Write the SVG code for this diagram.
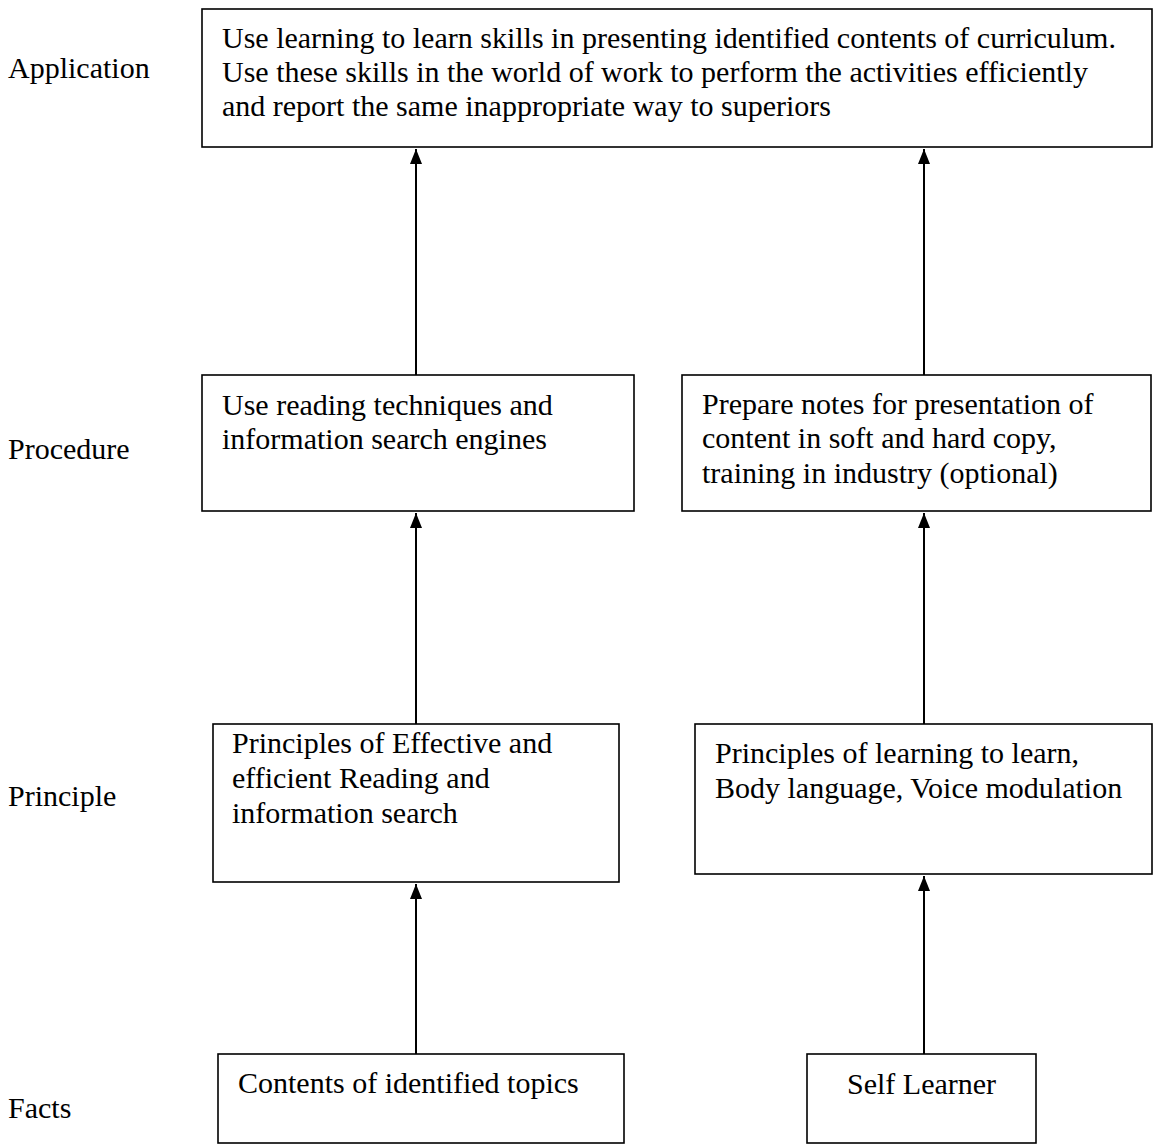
<svg xmlns="http://www.w3.org/2000/svg" width="1158" height="1144" viewBox="0 0 1158 1144">
<style>
text{font-family:"Liberation Serif","Times New Roman",serif;font-size:30px;fill:#000}
.box{fill:#fff;stroke:#000;stroke-width:1.6}
.conn{stroke:#000;stroke-width:2;fill:none;marker-end:url(#ah)}
</style>
<defs>
<marker id="ah" markerUnits="userSpaceOnUse" markerWidth="15" markerHeight="12" refX="15" refY="6" orient="auto" viewBox="0 0 15 12">
<path d="M0,0 L15,6 L0,12 Z" fill="#000"/>
</marker>
</defs>
<rect width="1158" height="1144" fill="#fff"/>
<g id="labels">
<text x="8" y="78">Application</text>
<text x="8" y="459">Procedure</text>
<text x="8" y="806">Principle</text>
<text x="8" y="1118">Facts</text>
</g>
<g id="connectors">
<path class="conn" d="M416,375 L416,149"/>
<path class="conn" d="M924,375 L924,149"/>
<path class="conn" d="M416,724 L416,513"/>
<path class="conn" d="M924,724 L924,513"/>
<path class="conn" d="M416,1054 L416,884"/>
<path class="conn" d="M924,1054 L924,876"/>
</g>
<g id="application">
<rect class="box" x="202" y="9" width="950" height="138"/>
<text x="222" y="48">Use learning to learn skills in presenting identified contents of curriculum.</text>
<text x="222" y="82">Use these skills in the world of work to perform the activities efficiently</text>
<text x="222" y="116">and report the same inappropriate way to superiors</text>
</g>
<g id="procedure-left">
<rect class="box" x="202" y="375" width="432" height="136"/>
<text x="222" y="415">Use reading techniques and</text>
<text x="222" y="449">information search engines</text>
</g>
<g id="procedure-right">
<rect class="box" x="682" y="375" width="469" height="136"/>
<text x="702" y="414">Prepare notes for presentation of</text>
<text x="702" y="448">content in soft and hard copy,</text>
<text x="702" y="483">training in industry (optional)</text>
</g>
<g id="principle-left">
<rect class="box" x="213" y="724" width="406" height="158"/>
<text x="232" y="753">Principles of Effective and</text>
<text x="232" y="788">efficient Reading and</text>
<text x="232" y="823">information search</text>
</g>
<g id="principle-right">
<rect class="box" x="695" y="724" width="457" height="150"/>
<text x="715" y="763">Principles of learning to learn,</text>
<text x="715" y="798">Body language, Voice modulation</text>
</g>
<g id="facts-left">
<rect class="box" x="218" y="1054" width="406" height="89"/>
<text x="238" y="1093">Contents of identified topics</text>
</g>
<g id="facts-right">
<rect class="box" x="807" y="1054" width="229" height="89"/>
<text x="847" y="1094">Self Learner</text>
</g>
</svg>
